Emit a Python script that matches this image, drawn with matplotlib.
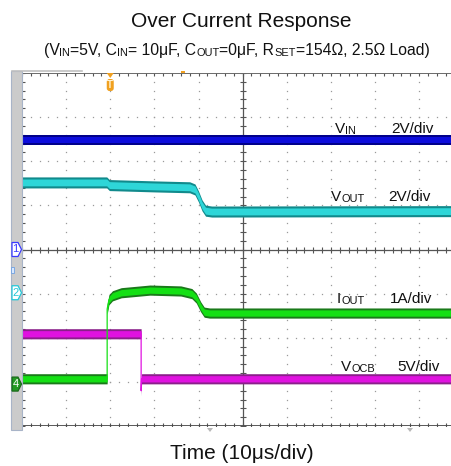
import numpy as np
import matplotlib
matplotlib.use("Agg")
import matplotlib.pyplot as plt
from matplotlib.patches import Polygon, Rectangle, FancyBboxPatch

plt.rcParams['font.family'] = ['Liberation Sans', 'DejaVu Sans']

# ---------------- data (in scope divisions) ----------------
t_vin = [0.0, 10.0]
v_vin = [6.48, 6.48]

t_vout = [0.0, 1.92, 1.98, 3.0, 3.8, 3.92, 4.0, 4.08, 4.16, 4.3, 10.0]
v_vout = [5.52, 5.52, 5.46, 5.43, 5.41, 5.36, 5.2, 5.0, 4.88, 4.86, 4.87]

t_iout = [0.0, 1.93, 1.93, 1.97, 2.05, 2.25, 2.9, 3.6, 3.85, 3.95, 4.05, 4.13, 4.25, 10.0]
v_iout = [1.07, 1.07, 2.65, 2.86, 2.95, 3.02, 3.08, 3.06, 3.0, 2.9, 2.7, 2.58, 2.56, 2.56]

t_vocb = [0.0, 2.70, 2.70, 2.71, 10.0]
v_vocb = [2.09, 2.09, 0.80, 1.07, 1.07]

trace_names = ["V", "V", "I", "V"]
trace_subs = ["IN", "OUT", "OUT", "OCB"]
trace_scales = ["2V/div", "2V/div", "1A/div", "5V/div"]

ch_labels = ["1", "2", "4"]
ch_levels = [4.0, 3.02, 0.95]
trigger_t = 2.0

title = "Over Current Response"
subtitle_parts = [("(V", False), ("IN", True), ("=5V, C", False), ("IN", True),
                  ("= 10\u03bcF, C", False), ("OUT", True), ("=0\u03bcF, R", False),
                  ("SET", True), ("=154\u03a9, 2.5\u03a9 Load)", False)]
xlabel = "Time (10\u03bcs/div)"

# ---------------- layout ----------------
W, H = 452, 466
fig = plt.figure(figsize=(W / 100, H / 100), dpi=100)
AX_L, AX_T, AX_B = 22, 73, 426
DIV = (AX_B - AX_T) / 8.0
ax = fig.add_axes([AX_L / W, 1 - AX_B / H, 10 * DIV / W, (AX_B - AX_T) / H])
ax.set_xlim(0, 10)
ax.set_ylim(0, 8)
ax.set_xticks([])
ax.set_yticks([])
for s in ax.spines.values():
    s.set_visible(False)


def fx(px):
    return px / W


def fy(py):
    return 1 - py / H


# gray side bar
fig.patches.append(Rectangle((fx(11), fy(430)), 11 / W, 359 / H, transform=fig.transFigure,
                             facecolor='#cbcbcb', edgecolor='#a8b4c8', lw=0.8, zorder=0))
fig.lines.append(plt.Line2D([fx(12), fx(82)], [fy(71), fy(71)], transform=fig.transFigure,
                            color='#c0c0c0', lw=1.2))

# grid dots
minor = np.arange(0, 10.001, 0.2)
minor_y = np.arange(0, 8.001, 0.2)
for gx in range(1, 10):
    if gx == 5:
        continue
    ax.plot(np.full_like(minor_y, gx), minor_y, ls='none', marker='s', ms=0.9,
            mec='none', mfc='#9a9a9a', zorder=1)
for gy in range(1, 8):
    if gy == 4:
        continue
    ax.plot(minor, np.full_like(minor, gy), ls='none', marker='s', ms=0.9,
            mec='none', mfc='#9a9a9a', zorder=1)

# center cross with ticks
ax.axvline(5, color='#555555', lw=0.9, zorder=1)
ax.axhline(4, color='#555555', lw=0.9, zorder=1)
ax.plot(np.full_like(minor_y, 5), minor_y, ls='none', marker='_', ms=4.5, mew=0.8,
        color='#555555', zorder=1)
ax.plot(minor, np.full_like(minor, 4), ls='none', marker='|', ms=4.5, mew=0.8,
        color='#555555', zorder=1)
# edge ticks
ax.plot(minor, np.full_like(minor, 8), ls='none', marker='|', ms=5, mew=0.8,
        color='#555555', zorder=1)
ax.plot(minor, np.full_like(minor, 0), ls='none', marker='|', ms=5, mew=0.8,
        color='#555555', zorder=1)
ax.plot(np.full_like(minor_y, 0), minor_y, ls='none', marker='_', ms=5, mew=0.8,
        color='#555555', zorder=1)
# borders
ax.axhline(8, color='#6a6a6a', lw=1.4, zorder=2)
ax.axhline(0, color='#4a4a4a', lw=2.0, zorder=2)


def band(t, v, h, main, dark, z):
    t = np.asarray(t)
    v = np.asarray(v)
    ax.fill_between(t, v - h, v + h, color=dark, lw=0, zorder=z)
    ax.fill_between(t, v - h * 0.62, v + h * 0.62, color=main, lw=0, zorder=z)
    ax.plot(t, v, color=main, lw=0.9, zorder=z)


band(t_vin, v_vin, 0.115, '#0c0cdc', '#00008a', 3)
band(t_vout, v_vout, 0.125, '#2ed6d8', '#118a8c', 3)
band(t_vocb, v_vocb, 0.115, '#e012e0', '#8a1f8a', 3)
band(t_iout, v_iout, 0.115, '#14e014', '#1a7a1a', 4)

renderer = fig.canvas.get_renderer()


def rich(x_px, y_px, parts, size, ha='left', sub_scale=0.72, sub_drop=1.0):
    items = []
    cur = 0.0
    for s, sub in parts:
        fs = size * sub_scale if sub else size
        t = fig.text(0, 0, s, fontsize=fs, va='baseline', ha='left', color='#111111')
        w = t.get_window_extent(renderer).width
        items.append((t, cur, sub_drop if sub else 0.0))
        cur += w
    start = x_px - cur / 2 if ha == 'center' else x_px
    for t, off, dy in items:
        t.set_position((fx(start + off), fy(y_px + dy)))


fig.text(fx(241.5), fy(27), title, fontsize=15, ha='center', va='baseline', color='#111111')
rich(236.5, 55, subtitle_parts, 11.3, ha='center', sub_scale=0.7)
fig.text(fx(241.5), fy(459), xlabel, fontsize=15, ha='center', va='baseline', color='#111111')

label_pos = [(335, 133, 391), (331, 201, 388), (337, 303, 390), (341, 371, 397)]
for (xn, yb, xs), nm, sb, sc in zip(label_pos, trace_names, trace_subs, trace_scales):
    rich(xn, yb, [(nm, False), (sb, True)], 11, sub_drop=1.5 if sb == "OCB" else 0.5)
    fig.text(fx(xs), fy(yb), sc, fontsize=11, va='baseline', ha='left', color='#111111')

# channel markers
ch_styles = [('white', '#3a3aff', '#3a3aff'), ('white', '#22c8d8', '#22c8d8'),
             ('#239a23', '#1a6a1a', 'white')]
for lab, lvl, (fc, ec, tc) in zip(ch_labels, ch_levels, ch_styles):
    py = AX_B - lvl * DIV
    pts = [(12, py - 7), (18, py - 7), (21.5, py), (18, py + 7), (12, py + 7)]
    fig.patches.append(Polygon([(fx(a), fy(b)) for a, b in pts], closed=True,
                               transform=fig.transFigure, facecolor=fc, edgecolor=ec,
                               lw=0.9, zorder=5))
    fig.text(fx(15.5), fy(py), lab, fontsize=8, color=tc, ha='center', va='center', zorder=6)
fig.patches.append(Rectangle((fx(10.5), fy(273)), 3 / W, 6 / H, transform=fig.transFigure,
                             facecolor='#d8e8ff', edgecolor='#6fa0e0', lw=0.6, zorder=5))

# trigger marker
tx = fx(AX_L + trigger_t * DIV)
fig.patches.append(Polygon([(tx - 3.5 / W, fy(73)), (tx + 3.5 / W, fy(73)), (tx, fy(78))],
                           closed=True, transform=fig.transFigure, facecolor='#f0a020',
                           edgecolor='none', zorder=6))
fig.patches.append(FancyBboxPatch((tx - 3.5 / W, fy(91)), 7 / W, 12 / H,
                                  boxstyle='round,pad=0,rounding_size=0.006',
                                  transform=fig.transFigure, facecolor='#f0a020',
                                  edgecolor='none', zorder=6))
fig.text(tx, fy(85), 'T', fontsize=7, fontweight='bold', color='#fff2d0', ha='center',
         va='center', zorder=7)
fig.patches.append(Rectangle((fx(181), fy(73)), 4 / W, 2 / H, transform=fig.transFigure,
                             facecolor='#f0a020', edgecolor='none', zorder=6))
# bottom markers
for bx in (210, 410):
    fig.patches.append(Polygon([(fx(bx - 3), fy(428)), (fx(bx + 3), fy(428)), (fx(bx), fy(432))],
                               closed=True, transform=fig.transFigure, facecolor='#b8b8b8',
                               edgecolor='none', zorder=6))

fig.savefig("out.png", dpi=100)
